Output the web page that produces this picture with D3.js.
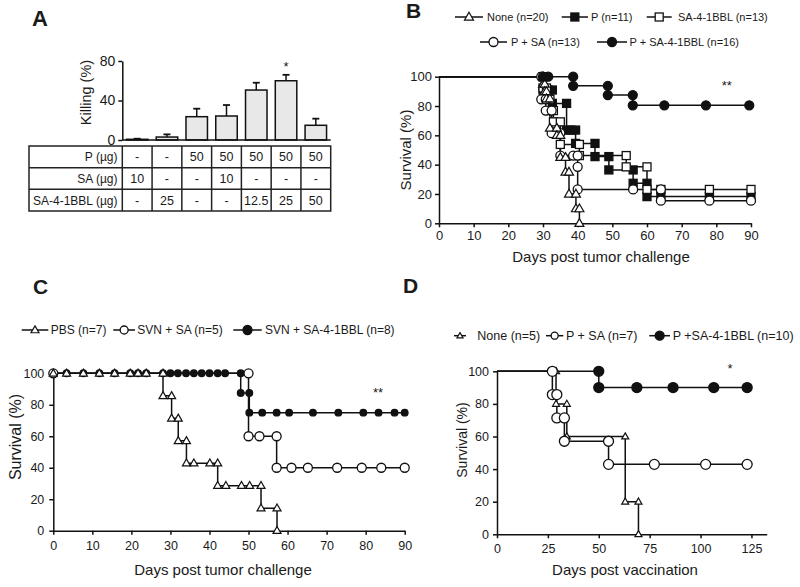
<!DOCTYPE html>
<html><head><meta charset="utf-8">
<script src="https://cdn.jsdelivr.net/npm/d3@7"></script>
<style>
body{margin:0;background:#fff}
svg{display:block}
text{font-family:"Liberation Sans",Arial,Helvetica,sans-serif;fill:#1a1a1a}
</style>
</head><body>
<svg id="chart" width="800" height="587"></svg>
<script>
// ---------------- DATA ----------------
// Panel A
const aRowLabels = ["P (\u00b5g)", "SA (\u00b5g)", "SA-4-1BBL (\u00b5g)"];
const aP        = ["-", "-", "50", "50", "50", "50", "50"];
const aSA       = ["10", "-", "-", "10", "-", "-", "-"];
const aSA41BBL  = ["-", "25", "-", "-", "12.5", "25", "50"];
const aKilling  = [0.7, 3, 23.6, 24.3, 50.6, 60, 14.9];
const aError    = [0.6, 2.7, 8.1, 11.1, 7.4, 6, 6.7];
const aTicks    = [0, 40, 80];

// Panel B  [day, survival %]
const bNone = [[30,100],[30,95],[30.5,95],[30.5,90],[31,90],[31,85],[32,85],[32,65],[34,65],[34,60],[35,60],[35,45],[36.5,45],[36.5,35],[37.5,35],[37.5,20],[39.5,20],[39.5,10],[40.5,10],[40.5,0]];
const bP = [[30,100],[30,90.9],[31.5,90.9],[32.7,90.9],[32.7,81.8],[36.8,81.8],[36.8,63.6],[38,63.6],[39.4,63.6],[39.4,54.5],[45,54.5],[45,45.5],[49,45.5],[49,36.4],[56,36.4],[56,27.3],[60,27.3],[60,18.2],[64,18.2],[78,18.2],[90,18.2]];
const bSA = [[30,100],[30,92.3],[31,92.3],[31,84.6],[32,84.6],[32,76.9],[33,76.9],[33,69.2],[35,69.2],[35,53.8],[40.5,53.8],[40.5,46.2],[54,46.2],[54,38.5],[60,38.5],[60,23.1],[64,23.1],[78,23.1],[90,23.1]];
const bPSA = [[29.5,100],[29.5,84.6],[30.8,84.6],[30.8,76.9],[32.5,76.9],[32.5,61.5],[35,61.5],[35,46.2],[38.7,46.2],[40,46.2],[40,38.5],[40,23.1],[56,23.1],[64,23.1],[64,15.4],[78,15.4],[90,15.4]];
const bPSA41 = [[30,100],[31.5,100],[38.7,100],[38.7,93.75],[48.7,93.75],[48.7,87.5],[55.9,87.5],[55.9,80.5],[65,80.5],[77,80.5],[89.5,80.5]];
const bLegend = ["None (n=20)", "P (n=11)", "SA-4-1BBL (n=13)", "P + SA (n=13)", "P + SA-4-1BBL (n=16)"];
const bXTicks = [0,10,20,30,40,50,60,70,80,90];
const bYTicks = [0,20,40,60,80,100];

// Panel C
const cPBS = [[0,100],[3.4,100],[7.7,100],[11.8,100],[15.7,100],[19.7,100],[21.7,100],[23.8,100],[28.1,100],[28.1,85.7],[30.3,85.7],[30.3,71.4],[32,71.4],[32,57.1],[34.1,57.1],[34.1,42.9],[36,42.9],[40.1,42.9],[42.1,42.9],[42.1,28.6],[44.2,28.6],[48.2,28.6],[50.3,28.6],[53.2,28.6],[53.2,14.3],[57.3,14.3],[57.3,0]];
const cSVNSA = [[0,100],[50,100],[50,60],[52.8,60],[57.2,60],[57.2,40],[61,40],[65.2,40],[72.7,40],[79,40],[84,40],[90,40]];
const cSVN41 = [[0,100],[3.4,100],[7.7,100],[11.8,100],[15.7,100],[19.7,100],[21.7,100],[23.8,100],[28.1,100],[30,100],[31.9,100],[34,100],[36,100],[38,100],[40,100],[42.1,100],[44,100],[48,100],[48,87.5],[50.2,87.5],[50.2,75],[53.5,75],[57.2,75],[60.4,75],[66.5,75],[73,75],[79.4,75],[83.3,75],[87.4,75],[90,75]];
const cLegend = ["PBS (n=7)", "SVN + SA (n=5)", "SVN + SA-4-1BBL (n=8)"];
const cXTicks = [0,10,20,30,40,50,60,70,80,90];
const cYTicks = [0,20,40,60,80,100];

// Panel D
const dNone = [[29,100],[29,80],[34.3,80],[34.3,60],[63,60],[63,20],[69.5,20],[69.5,0]];
const dPSA = [[27.2,100],[27.2,85.7],[29.4,85.7],[29.4,71.4],[33.1,71.4],[33.1,57.1],[54.8,57.1],[54.8,42.9],[77.3,42.9],[102.5,42.9],[122.9,42.9]];
const dPSA41 = [[50,100],[50,90],[68.7,90],[86.5,90],[106.5,90],[122.9,90]];
const dLegend = ["None (n=5)", "P + SA (n=7)", "P +SA-4-1BBL (n=10)"];
const dXTicks = [0,25,50,75,100,125];
const dYTicks = [0,20,40,60,80,100];

// ---------------- DRAWING ----------------
const svg = d3.select("#chart");
const INK = "#111";

function marker(g, type, fill, size, x, y) {
  if (type === "circle") {
    g.append("circle").attr("cx", x).attr("cy", y).attr("r", size)
      .attr("fill", fill).attr("stroke", INK).attr("stroke-width", 1.3);
  } else if (type === "square") {
    g.append("rect").attr("x", x - size/2).attr("y", y - size/2)
      .attr("width", size).attr("height", size)
      .attr("fill", fill).attr("stroke", INK).attr("stroke-width", 1.3);
  } else {
    const h = size * Math.sqrt(3) / 2;
    g.append("path")
      .attr("d", `M${x},${y - h*0.6}L${x + size/2},${y + h*0.4}L${x - size/2},${y + h*0.4}Z`)
      .attr("fill", fill).attr("stroke", INK).attr("stroke-width", 1.2);
  }
}

function styleAxis(g, fs) {
  g.select(".domain").attr("stroke", INK).attr("stroke-width", 1.5);
  g.selectAll(".tick line").attr("stroke", INK).attr("stroke-width", 1.5);
  g.selectAll(".tick text").attr("font-size", fs).attr("fill", "#1a1a1a")
    .style("font-family", '"Liberation Sans", Arial, sans-serif');
}

function survivalPanel(cfg) {
  const g = svg.append("g");
  const x = d3.scaleLinear().domain(cfg.xDomain).range(cfg.xRange);
  const y = d3.scaleLinear().domain([0, 100]).range(cfg.yRange);
  const line = d3.line().curve(d3.curveStepAfter).x(d => x(d[0])).y(d => y(d[1]));

  const xa = g.append("g").attr("transform", `translate(0,${cfg.yRange[0]})`)
    .call(d3.axisBottom(x).tickValues(cfg.xTicks).tickSize(4).tickSizeOuter(0).tickPadding(cfg.xPad));
  styleAxis(xa, cfg.tickFs);
  const ya = g.append("g").attr("transform", `translate(${cfg.xRange[0]},0)`)
    .call(d3.axisLeft(y).tickValues(cfg.yTicks).tickSize(4).tickSizeOuter(0).tickPadding(cfg.yPad));
  styleAxis(ya, cfg.tickFs);

  cfg.series.forEach(s => {
    const pts = s.data[0][0] > 0 ? [[0, 100]].concat(s.data) : s.data;
    g.append("path").attr("d", line(pts)).attr("fill", "none")
      .attr("stroke", INK).attr("stroke-width", 1.5);
  });
  cfg.series.forEach(s => {
    const mg = g.append("g");
    s.data.forEach(d => marker(mg, s.type, s.fill, s.size, x(d[0]), y(d[1])));
  });

  // legend
  cfg.legend.forEach((l, i) => {
    const s = cfg.series[l.si];
    g.append("line").attr("x1", l.x1).attr("x2", l.x2).attr("y1", l.y).attr("y2", l.y)
      .attr("stroke", INK).attr("stroke-width", 1.5);
    marker(g, s.type, s.fill, l.ms || s.size, (l.x1 + l.x2) / 2, l.y);
    g.append("text").attr("x", l.tx).attr("y", l.y + cfg.legFs * 0.36).attr("font-size", cfg.legFs)
      .text(cfg.legendLabels[i]);
  });

  g.append("text").attr("transform", `translate(${cfg.yLabel[0]},${cfg.yLabel[1]}) rotate(-90)`)
    .attr("text-anchor", "middle").attr("dominant-baseline", "central")
    .attr("font-size", cfg.yLabel[2]).text("Survival (%)");
  g.append("text").attr("x", cfg.xLabel[0]).attr("y", cfg.xLabel[1])
    .attr("text-anchor", "middle").attr("font-size", 15).text(cfg.xTitle);
  g.append("text").attr("x", cfg.star[0]).attr("y", cfg.star[1])
    .attr("text-anchor", "middle").attr("font-size", 13).attr("fill", "#444").text(cfg.star[2]);
  g.append("text").attr("x", cfg.panel[0]).attr("y", cfg.panel[1])
    .attr("font-size", 21).attr("font-weight", "bold").text(cfg.panel[2]);
}

// ---- Panel A ----
(function () {
  const g = svg.append("g");
  const x = d3.scaleBand().domain(d3.range(aKilling.length)).range([122.3, 330.7])
    .paddingInner(0.278).paddingOuter(0.139);
  const y = d3.scaleLinear().domain([0, 80]).range([140, 61]);
  const step = x.step();

  aKilling.forEach((v, i) => {
    const cx = x(i) + x.bandwidth() / 2;
    const top = y(v + aError[i]);
    g.append("line").attr("x1", cx).attr("x2", cx).attr("y1", y(v)).attr("y2", top)
      .attr("stroke", INK).attr("stroke-width", 1.5);
    g.append("line").attr("x1", cx - 3.5).attr("x2", cx + 3.5).attr("y1", top).attr("y2", top)
      .attr("stroke", INK).attr("stroke-width", 1.8);
    g.append("rect").attr("x", x(i)).attr("y", y(v)).attr("width", x.bandwidth())
      .attr("height", y(0) - y(v)).attr("fill", "#e8e8e8").attr("stroke", INK).attr("stroke-width", 1.5);
  });
  const ya = g.append("g").attr("transform", "translate(122.3,0)")
    .call(d3.axisLeft(y).tickValues(aTicks).tickSize(4).tickSizeOuter(0).tickPadding(3));
  styleAxis(ya, 14);
  g.append("line").attr("x1", 122.3).attr("x2", 330.7).attr("y1", 140).attr("y2", 140)
    .attr("stroke", INK).attr("stroke-width", 1.5);
  g.append("text").attr("transform", "translate(86,92.5) rotate(-90)")
    .attr("text-anchor", "middle").attr("dominant-baseline", "central")
    .attr("font-size", 14.5).text("Killing (%)");
  g.append("text").attr("x", x(5) + x.bandwidth() / 2).attr("y", 71)
    .attr("text-anchor", "middle").attr("font-size", 13).text("*");

  // table
  const rows = [aP, aSA, aSA41BBL];
  const top = 146, rh = (211 - 146) / 3, left = 29, lblRight = 122.3;
  const tb = g.append("g");
  tb.append("rect").attr("x", left).attr("y", top).attr("width", 330.7 - left).attr("height", rh * 3)
    .attr("fill", "none").attr("stroke", "#222").attr("stroke-width", 1.5);
  for (let r = 1; r < 3; r++)
    tb.append("line").attr("x1", left).attr("x2", 330.7).attr("y1", top + r * rh).attr("y2", top + r * rh)
      .attr("stroke", "#222").attr("stroke-width", 1.5);
  for (let c = 0; c < 7; c++) {
    const xx = lblRight + c * step;
    tb.append("line").attr("x1", xx).attr("x2", xx).attr("y1", top).attr("y2", top + 3 * rh)
      .attr("stroke", "#222").attr("stroke-width", 1.5);
  }
  rows.forEach((row, r) => {
    const cy = top + r * rh + rh / 2 + 4.5;
    tb.append("text").attr("x", 117.5).attr("y", cy).attr("text-anchor", "end")
      .attr("font-size", 12).text(aRowLabels[r]);
    row.forEach((v, c) => {
      tb.append("text").attr("x", x(c) + x.bandwidth() / 2).attr("y", cy)
        .attr("text-anchor", "middle").attr("font-size", 12.5).text(v);
    });
  });
  g.append("text").attr("x", 32).attr("y", 26).attr("font-size", 22).attr("font-weight", "bold").text("A");
})();

// ---- Panel B ----
survivalPanel({
  xDomain: [0, 90], xRange: [439, 751], yRange: [223.3, 76.7],
  xTicks: bXTicks, yTicks: bYTicks, tickFs: 13, xPad: 3, yPad: 3,
  series: [
    {data: bP, type: "square", fill: INK, size: 8},
    {data: bSA, type: "square", fill: "#fff", size: 8},
    {data: bPSA, type: "circle", fill: "#fff", size: 4.5},
    {data: bNone, type: "tri", fill: "#fff", size: 9},
    {data: bPSA41, type: "circle", fill: INK, size: 4.5}
  ],
  legendLabels: bLegend, legFs: 11,
  legend: [
    {si: 3, x1: 455, x2: 483, y: 17, tx: 487},
    {si: 0, x1: 561.7, x2: 588, y: 17, tx: 591},
    {si: 1, x1: 646.7, x2: 671.7, y: 17, tx: 678},
    {si: 2, x1: 480, x2: 507, y: 42, tx: 511},
    {si: 4, x1: 597, x2: 627, y: 42, tx: 629.5}
  ],
  yLabel: [405, 150, 15], xLabel: [601, 262], xTitle: "Days post tumor challenge",
  star: [726.7, 90, "**"], panel: [406, 18, "B"]
});

// ---- Panel C ----
survivalPanel({
  xDomain: [0, 90], xRange: [53.3, 404.7], yRange: [530.7, 373.3],
  xTicks: cXTicks, yTicks: cYTicks, tickFs: 12.5, xPad: 6, yPad: 5,
  series: [
    {data: cSVN41, type: "circle", fill: INK, size: 3.3},
    {data: cSVNSA, type: "circle", fill: "#fff", size: 4.5},
    {data: cPBS, type: "tri", fill: "#fff", size: 8}
  ],
  legendLabels: cLegend, legFs: 12,
  legend: [
    {si: 2, x1: 21.7, x2: 48.3, y: 330, tx: 50.7, ms: 8},
    {si: 1, x1: 113.3, x2: 135, y: 330, tx: 137.3, ms: 4},
    {si: 0, x1: 233.3, x2: 261.7, y: 330, tx: 265, ms: 4.5}
  ],
  yLabel: [15, 437, 16], xLabel: [223, 575], xTitle: "Days post tumor challenge",
  star: [378, 397, "**"], panel: [33, 294, "C"]
});

// ---- Panel D ----
survivalPanel({
  xDomain: [0, 132.5], xRange: [497, 766.7], yRange: [534.3, 371.3],
  xTicks: dXTicks, yTicks: dYTicks, tickFs: 12.5, xPad: 6, yPad: 4,
  series: [
    {data: dNone, type: "tri", fill: "#fff", size: 7},
    {data: dPSA, type: "circle", fill: "#fff", size: 5},
    {data: dPSA41, type: "circle", fill: INK, size: 5}
  ],
  legendLabels: dLegend, legFs: 12.5,
  legend: [
    {si: 0, x1: 454, x2: 466, y: 335.7, tx: 477.3, ms: 6},
    {si: 1, x1: 546, x2: 563.3, y: 335.7, tx: 566, ms: 3.5},
    {si: 2, x1: 649.3, x2: 670, y: 335.7, tx: 672.7, ms: 4.5}
  ],
  yLabel: [462, 440, 14], xLabel: [625, 575], xTitle: "Days post vaccination",
  star: [730, 373, "*"], panel: [403, 293, "D"]
});
</script>
</body></html>
